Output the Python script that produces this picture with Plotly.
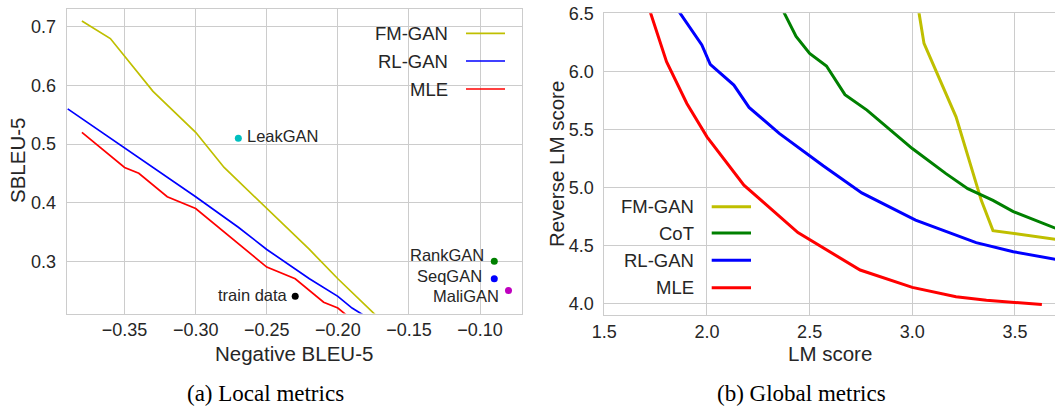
import plotly.graph_objects as go

W, H = 1055, 408

# ---------------- data: (a) Local metrics ----------------
fm_local_x = [-0.38, -0.36, -0.33, -0.30, -0.28, -0.25, -0.22, -0.20, -0.17]
fm_local_y = [0.71, 0.68, 0.59, 0.52, 0.46, 0.39, 0.32, 0.27, 0.20]
rl_local_x = [-0.39, -0.36, -0.33, -0.30, -0.27, -0.25, -0.22, -0.20, -0.19, -0.18]
rl_local_y = [0.56, 0.51, 0.46, 0.41, 0.358, 0.32, 0.27, 0.24, 0.22, 0.205]
mle_local_x = [-0.38, -0.35, -0.34, -0.32, -0.30, -0.25, -0.23, -0.21, -0.20, -0.19]
mle_local_y = [0.52, 0.46, 0.45, 0.41, 0.39, 0.29, 0.27, 0.23, 0.22, 0.20]

point_names = ["LeakGAN", "RankGAN", "SeqGAN", "MaliGAN", "train data"]
point_x = [-0.27, -0.09, -0.09, -0.08, -0.23]
point_y = [0.51, 0.30, 0.27, 0.25, 0.24]
point_colors = ["#00bfbf", "#008000", "#0000ff", "#bf00bf", "#000000"]

local_xticks = [-0.35, -0.30, -0.25, -0.20, -0.15, -0.10]
local_yticks = [0.3, 0.4, 0.5, 0.6, 0.7]

# ---------------- data: (b) Global metrics ----------------
fm_glob_x = [3.02, 3.033, 3.057, 3.213, 3.336, 3.393, 3.697]
fm_glob_y = [6.64, 6.50, 6.241, 5.609, 4.89, 4.629, 4.555]
cot_glob_x = [2.36, 2.434, 2.50, 2.582, 2.672, 2.779, 3.0, 3.164, 3.27, 3.393, 3.492, 3.697]
cot_glob_y = [6.56, 6.30, 6.155, 6.046, 5.80, 5.667, 5.336, 5.12, 4.99, 4.89, 4.793, 4.65]
rl_glob_x = [1.85, 1.975, 2.016, 2.131, 2.205, 2.352, 2.566, 2.754, 3.016, 3.311, 3.492, 3.697]
rl_glob_y = [6.55, 6.227, 6.06, 5.882, 5.69, 5.466, 5.187, 4.954, 4.72, 4.526, 4.448, 4.382]
mle_glob_x = [1.70, 1.803, 1.902, 2.0, 2.18, 2.262, 2.443, 2.746, 3.0, 3.213, 3.361, 3.631]
mle_glob_y = [6.64, 6.083, 5.724, 5.437, 5.02, 4.894, 4.612, 4.29, 4.141, 4.06, 4.029, 3.994]

glob_xticks = [1.5, 2.0, 2.5, 3.0, 3.5]
glob_yticks = [4.0, 4.5, 5.0, 5.5, 6.0, 6.5]

# colours
C_FM, C_COT, C_RL, C_MLE = "#bfbf00", "#008000", "#0000ff", "#ff0000"
TXT = "#262626"
GRID = "#cccccc"
SANS = "Liberation Sans, Arial, sans-serif"
SERIF = "Liberation Serif, Times New Roman, serif"


def px(x):
    return x / W


def py(y):
    return 1 - y / H


fig = go.Figure()

# left panel lines
for xs, ys, c, n in [(fm_local_x, fm_local_y, C_FM, "FM-GAN"),
                     (rl_local_x, rl_local_y, C_RL, "RL-GAN"),
                     (mle_local_x, mle_local_y, C_MLE, "MLE")]:
    fig.add_trace(go.Scatter(x=xs, y=ys, mode="lines", name=n,
                             line=dict(color=c, width=1.7),
                             xaxis="x", yaxis="y", showlegend=False))

# left panel points
fig.add_trace(go.Scatter(x=point_x, y=point_y, mode="markers",
                         marker=dict(color=point_colors, size=7),
                         xaxis="x", yaxis="y", showlegend=False))

# right panel lines
for xs, ys, c, n in [(fm_glob_x, fm_glob_y, C_FM, "FM-GAN"),
                     (cot_glob_x, cot_glob_y, C_COT, "CoT"),
                     (rl_glob_x, rl_glob_y, C_RL, "RL-GAN"),
                     (mle_glob_x, mle_glob_y, C_MLE, "MLE")]:
    fig.add_trace(go.Scatter(x=xs, y=ys, mode="lines", name=n,
                             line=dict(color=c, width=3),
                             xaxis="x2", yaxis="y2", showlegend=False))

annotations = []
shapes = []

# point labels
label_cfg = {
    "LeakGAN": dict(xanchor="left", xshift=7, yshift=2),
    "RankGAN": dict(xanchor="right", xshift=-8, yshift=6),
    "SeqGAN": dict(xanchor="right", xshift=-10, yshift=3),
    "MaliGAN": dict(xanchor="right", xshift=-7, yshift=-6),
    "train data": dict(xanchor="right", xshift=-5, yshift=1),
}
for n, x, y in zip(point_names, point_x, point_y):
    cfg = label_cfg[n]
    annotations.append(dict(x=x, y=y, xref="x", yref="y", text=n, showarrow=False,
                            xanchor=cfg["xanchor"], yanchor="middle",
                            xshift=cfg["xshift"], yshift=cfg["yshift"],
                            font=dict(family=SANS, size=16.5, color=TXT)))

# manual legends (text left of line sample)
def legend(entries, text_right, line_x0, line_x1, ys, width):
    for (name, col), y in zip(entries, ys):
        annotations.append(dict(x=px(text_right), y=py(y), xref="paper", yref="paper",
                                text=name, showarrow=False, xanchor="right", yanchor="middle",
                                font=dict(family=SANS, size=18.5, color=TXT)))
        shapes.append(dict(type="line", xref="paper", yref="paper",
                           x0=px(line_x0), x1=px(line_x1), y0=py(y), y1=py(y),
                           line=dict(color=col, width=width)))

legend([("FM-GAN", C_FM), ("RL-GAN", C_RL), ("MLE", C_MLE)],
       450, 466, 505, [33.3, 61.0, 89.0], 1.7)
legend([("FM-GAN", C_FM), ("CoT", C_COT), ("RL-GAN", C_RL), ("MLE", C_MLE)],
       695.6, 711.7, 751, [206.7, 233.0, 260.3, 287.7], 3)

# axis titles and captions
title_font = dict(family=SANS, size=20.5, color=TXT)
cap_font = dict(family=SERIF, size=23, color="#000000")
annotations += [
    dict(x=px(294.3), y=py(353), xref="paper", yref="paper", text="Negative BLEU-5",
         showarrow=False, xanchor="center", yanchor="middle", font=title_font),
    dict(x=px(829.7), y=py(353), xref="paper", yref="paper", text="LM score",
         showarrow=False, xanchor="center", yanchor="middle", font=title_font),
    dict(x=px(18), y=py(161), xref="paper", yref="paper", text="SBLEU-5", textangle=-90,
         showarrow=False, xanchor="center", yanchor="middle", font=title_font),
    dict(x=px(556), y=py(164), xref="paper", yref="paper", text="Reverse LM score", textangle=-90,
         showarrow=False, xanchor="center", yanchor="middle", font=title_font),
    dict(x=px(265.7), y=0, xref="paper", yref="paper", text="(a) Local metrics",
         showarrow=False, xanchor="center", yanchor="bottom", font=cap_font),
    dict(x=px(801), y=0, xref="paper", yref="paper", text="(b) Global metrics",
         showarrow=False, xanchor="center", yanchor="bottom", font=cap_font),
]

tick_font = dict(family=SANS, size=18, color=TXT)
axis_common = dict(showgrid=True, gridcolor=GRID, gridwidth=1, zeroline=False,
                   showline=True, linecolor=GRID, linewidth=1, ticks="",
                   tickfont=tick_font, automargin=False, fixedrange=True)

fig.update_layout(
    template="none",
    width=W, height=H, autosize=False,
    margin=dict(l=0, r=0, t=0, b=0, pad=0, autoexpand=False),
    paper_bgcolor="white", plot_bgcolor="white",
    hovermode=False,
    xaxis=dict(domain=[px(66.7), px(522)], range=[-0.3907, -0.0705],
               tickvals=local_xticks, tickformat=".2f", mirror=True,
               anchor="y", ticklabelstandoff=0, **axis_common),
    yaxis=dict(domain=[py(313.5), py(9.3)], range=[0.2107, 0.730],
               tickvals=local_yticks, tickformat=".1f", mirror=True,
               anchor="x", ticklabelstandoff=6, **axis_common),
    xaxis2=dict(domain=[px(604.3), 1.0], range=[1.5, 3.695],
                tickvals=glob_xticks, tickformat=".1f", mirror=True,
                anchor="y2", ticklabelstandoff=0, **axis_common),
    yaxis2=dict(domain=[py(315), py(13.3)], range=[3.903, 6.5],
                tickvals=glob_yticks, tickformat=".1f", mirror=False,
                anchor="x2", ticklabelstandoff=6, **axis_common),
    annotations=annotations,
    shapes=shapes,
    showlegend=False,
)

fig.write_html("out.html",
               config=dict(displayModeBar=False, staticPlot=True),
               post_script="document.body.style.margin='0px';document.body.style.overflow='hidden';")
